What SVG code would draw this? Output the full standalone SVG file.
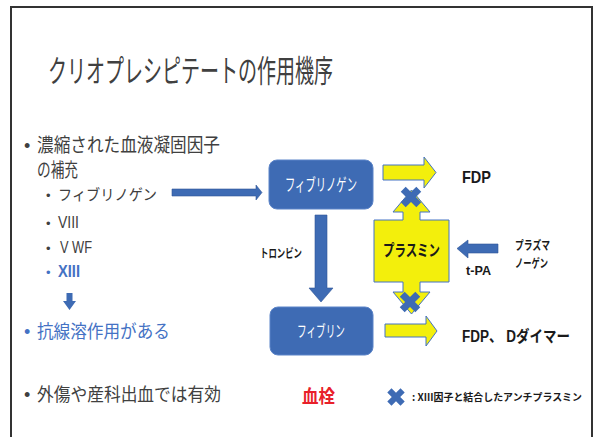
<svg xmlns="http://www.w3.org/2000/svg" width="598" height="437" viewBox="0 0 598 437">
<style>
text { font-family: "Liberation Sans", "Noto Sans CJK JP", sans-serif; }
.jp { font-family: "Noto Sans CJK JP", "Liberation Sans", sans-serif; }
.body { fill: #404040; }
.blue { fill: #4472C4; }
.bold { font-weight: bold; fill: #1a1a1a; }
.box { fill: #3E6BB4; stroke: #5B84C8; stroke-width: 1; }
.boxtxt { fill: #ffffff; }
.yel { fill: #F3EF0C; stroke: #4472C4; stroke-width: 1; }
.barrow { fill: #3E6BB4; stroke: #2F5597; stroke-width: 0.6; }
</style>
<defs>
<polygon id="xmark" points="-3.5,-11 3.5,-11 3.5,-3.5 11,-3.5 11,3.5 3.5,3.5 3.5,11 -3.5,11 -3.5,3.5 -11,3.5 -11,-3.5 -3.5,-3.5" transform="rotate(45)" fill="#3E6BB4"/>
</defs>
<rect width="598" height="437" fill="#ffffff"/>
<path d="M11,437 V7 H592 V437" fill="none" stroke="#333333" stroke-width="2"/>

<g id="title">
<text class="jp body" x="48" y="82" font-size="31" textLength="285" lengthAdjust="spacingAndGlyphs">クリオプレシピテートの作用機序</text>
</g>

<g id="bullets">
<text class="body" x="24" y="152" font-size="18">•</text>
<text class="jp body" x="37" y="152" font-size="19" textLength="183" lengthAdjust="spacingAndGlyphs">濃縮された血液凝固因子</text>
<text class="jp body" x="37" y="177" font-size="19" textLength="41" lengthAdjust="spacingAndGlyphs">の補充</text>
<text class="body" x="46" y="200" font-size="13">•</text>
<text class="jp body" x="58" y="200" font-size="15" textLength="99" lengthAdjust="spacingAndGlyphs">フィブリノゲン</text>
<text class="body" x="46" y="228" font-size="13">•</text>
<text class="body" x="58" y="228" font-size="16" textLength="21" lengthAdjust="spacingAndGlyphs">VIII</text>
<text class="body" x="46" y="253" font-size="13">•</text>
<text class="body" x="60" y="253" font-size="16" textLength="32" lengthAdjust="spacingAndGlyphs">V WF</text>
<text class="blue" x="46" y="277" font-size="13">•</text>
<text class="blue" x="58" y="277" font-size="17" font-weight="bold" textLength="22" lengthAdjust="spacingAndGlyphs">XIII</text>
<path d="M66.5,293 H72.5 V301 H76 L69.5,310 L63,301 H66.5 Z" fill="#3E6BB4"/>
<text class="blue" x="24" y="338" font-size="18">•</text>
<text class="jp blue" x="37" y="338" font-size="18" textLength="133" lengthAdjust="spacingAndGlyphs">抗線溶作用がある</text>
<text class="body" x="24" y="401" font-size="18">•</text>
<text class="jp body" x="37" y="401" font-size="18" textLength="184" lengthAdjust="spacingAndGlyphs">外傷や産科出血では有効</text>
</g>

<g id="thrombus">
<text class="jp" x="302" y="403" font-size="18" font-weight="bold" fill="#E8202A" textLength="33" lengthAdjust="spacingAndGlyphs">血栓</text>
</g>

<g id="legend">
<use href="#xmark" transform="translate(396,397) scale(0.85)"/>
<text class="jp bold" x="412" y="401" font-size="10" textLength="170" lengthAdjust="spacingAndGlyphs">: XIII因子と結合したアンチプラスミン</text>
</g>

<g id="connectors">
<path class="barrow" d="M172,189 H256 V185 L262,192.5 L256,200 V196 H172 Z"/>
<path class="barrow" d="M315,215 H327 V288 H333 L321,302 L309,288 H315 Z"/>
<path class="barrow" d="M498,244 H468 V240 L457,248.5 L468,258 V253 H498 Z"/>
<path class="yel" d="M383,165 H424 V157 L436,172.5 L424,188 V180 H383 Z"/>
<path class="yel" d="M385,324 H426 V316 L437,331 L426,346 V337 H385 Z"/>
</g>

<g id="fibrinogen">
<rect class="box" x="269" y="160" width="104" height="49" rx="8"/>
<text class="jp boxtxt" x="285" y="191" font-size="17" textLength="72" lengthAdjust="spacingAndGlyphs">フィブリノゲン</text>
</g>

<g id="fibrin">
<rect class="box" x="270" y="307" width="103" height="48" rx="8"/>
<text class="jp boxtxt" x="297" y="337" font-size="16" textLength="48" lengthAdjust="spacingAndGlyphs">フィブリン</text>
</g>

<g id="plasmin">
<path class="yel" d="M374,220 H403 V212 H393 L411.5,190 L430,212 H420 V220 H449 V282 H420 V292 H430 L411.5,314 L393,292 H403 V282 H374 Z"/>
<text class="jp bold" x="383" y="256" font-size="16" textLength="57" lengthAdjust="spacingAndGlyphs">プラスミン</text>
<use href="#xmark" transform="translate(411,197)"/>
<use href="#xmark" transform="translate(410,302)"/>
</g>

<g id="labels">
<text class="bold" x="462" y="183" font-size="17" textLength="29" lengthAdjust="spacingAndGlyphs">FDP</text>
<text class="bold" x="462" y="342" font-size="16" textLength="108" lengthAdjust="spacingAndGlyphs">FDP、 Dダイマー</text>
<text class="jp bold" x="260" y="258" font-size="12" textLength="42" lengthAdjust="spacingAndGlyphs">トロンビン</text>
<text class="jp bold" x="515" y="250" font-size="12" textLength="35" lengthAdjust="spacingAndGlyphs">プラズマ</text>
<text class="jp bold" x="515" y="268" font-size="12" textLength="33" lengthAdjust="spacingAndGlyphs">ノーゲン</text>
<text class="bold" x="466" y="275" font-size="12" textLength="25" lengthAdjust="spacingAndGlyphs">t-PA</text>
</g>
</svg>
